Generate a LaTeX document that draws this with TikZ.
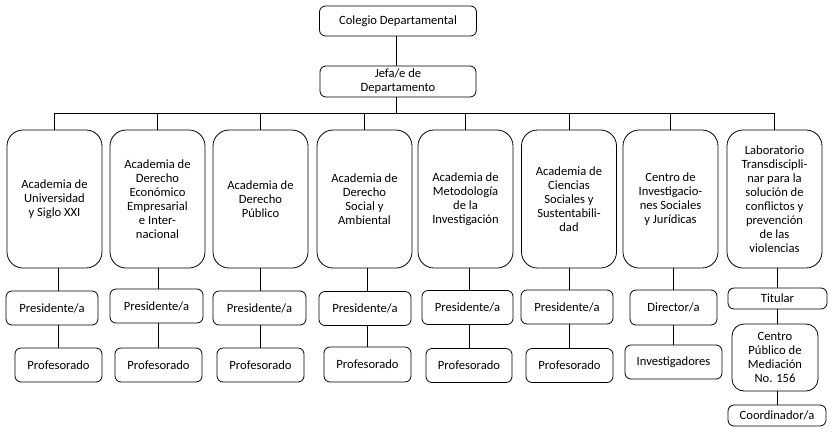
\documentclass[tikz,border=0pt]{standalone}
\usepackage{fontspec}
\setmainfont{Carlito}
\usepackage{tikz}

\begin{document}
\begin{tikzpicture}[x=1pt,y=-1pt,line width=0.8pt,
    box/.style={draw,rounded corners=6pt,align=center,inner sep=0pt,
      font=\fontsize{12.6}{14}\selectfont},
    acad/.style={box,rounded corners=16pt,minimum width=95pt,minimum height=138pt},
    sub/.style={box,minimum width=87pt,minimum height=34pt}]
    \useasboundingbox (0,0) rectangle (833,432);
    \node[box,minimum width=157pt,minimum height=30pt] (colegio) at (398,21) {Colegio Departamental};
    \node[box,minimum width=156pt,minimum height=31pt] (jefa) at (398,81.5) {Jefa/e de\\Departamento};
    \coordinate (bus) at (396,113);

    \node[acad] (acad1) at (54.5,199) {Academia de\\Universidad\\y Siglo XXI};
    \node[acad] (acad2) at (157.5,199) {Academia de\\Derecho\\Económico\\Empresarial\\e Inter-\\nacional};
    \node[acad] (acad3) at (260.5,199) {Academia de\\Derecho\\Público};
    \node[acad] (acad4) at (364.5,199) {Academia de\\Derecho\\Social y\\Ambiental};
    \node[acad] (acad5) at (465.5,199) {Academia de\\Metodología\\de la\\Investigación};
    \node[acad] (acad6) at (569,199) {Academia de\\Ciencias\\Sociales y\\Sustentabili-\\dad};
    \node[acad] (cinv) at (670.5,199) {Centro de\\Investigacio-\\nes Sociales\\y Jurídicas};
    \node[acad] (lab) at (774.5,199) {Laboratorio\\Transdiscipli-\\nar para la\\solución de\\conflictos y\\prevención\\de las\\violencias};

    \node[sub,minimum width=92pt] (pres1) at (52,308) {Presidente/a};
    \node[sub,minimum width=93pt] (pres2) at (156.5,306) {Presidente/a};
    \node[sub,minimum width=93pt] (pres3) at (259.5,308) {Presidente/a};
    \node[sub,minimum width=92pt] (pres4) at (365,308.5) {Presidente/a};
    \node[sub,minimum width=91pt] (pres5) at (467.5,307.5) {Presidente/a};
    \node[sub,minimum width=92pt] (pres6) at (567,307) {Presidente/a};
    \node[sub,minimum height=35pt] (dir) at (673.5,307.5) {Director/a};
    \node[box,minimum width=99pt,minimum height=21pt] (titular) at (777.5,298.5) {Titular};

    \node[sub] (prof1) at (58.5,365) {Profesorado};
    \node[sub] (prof2) at (158.5,365) {Profesorado};
    \node[sub] (prof3) at (260.5,365) {Profesorado};
    \node[sub,minimum height=35pt] (prof4) at (367.5,364.5) {Profesorado};
    \node[sub,minimum width=86pt] (prof5) at (469,365.5) {Profesorado};
    \node[sub] (prof6) at (569.5,365.5) {Profesorado};
    \node[sub,minimum width=97pt] (invest) at (673.5,362) {Investigadores};
    \node[box,rounded corners=12pt,minimum width=86pt,minimum height=67pt] (cpm) at (775,357.5) {Centro\\Público de\\Mediación\\No. 156};
    \node[box,minimum width=98pt,minimum height=21pt] (coord) at (777,415.5) {Coordinador/a};

    \draw (colegio.south -| bus) -- (jefa.north -| bus);
    \draw (jefa.south -| bus) -- (bus);
    \draw (acad1.north) |- (bus);
    \draw (acad2.north) |- (bus);
    \draw (acad3.north) |- (bus);
    \draw (acad4.north) |- (bus);
    \draw (acad5.north) |- (bus);
    \draw (acad6.north) |- (bus);
    \draw (cinv.north) |- (bus);
    \draw (lab.north) |- (bus);

    \draw (acad1.south -| prof1.north) -- (pres1.north -| prof1.north);
    \draw (pres1.south -| prof1.north) -- (prof1.north);
    \draw (acad2.south -| prof2.north) -- (pres2.north -| prof2.north);
    \draw (pres2.south -| prof2.north) -- (prof2.north);
    \draw (acad3.south -| prof3.north) -- (pres3.north -| prof3.north);
    \draw (pres3.south -| prof3.north) -- (prof3.north);
    \draw (acad4.south -| prof4.north) -- (pres4.north -| prof4.north);
    \draw (pres4.south -| prof4.north) -- (prof4.north);
    \draw (acad5.south -| prof5.north) -- (pres5.north -| prof5.north);
    \draw (pres5.south -| prof5.north) -- (prof5.north);
    \draw (acad6.south -| prof6.north) -- (pres6.north -| prof6.north);
    \draw (pres6.south -| prof6.north) -- (prof6.north);
    \draw (cinv.south -| invest.north) -- (dir.north -| invest.north);
    \draw (dir.south -| invest.north) -- (invest.north);
    \draw (lab.south -| coord.north) -- (titular.north -| coord.north);
    \draw (titular.south -| coord.north) -- (cpm.north -| coord.north);
    \draw (cpm.south -| coord.north) -- (coord.north);
  \end{tikzpicture}
\end{document}
